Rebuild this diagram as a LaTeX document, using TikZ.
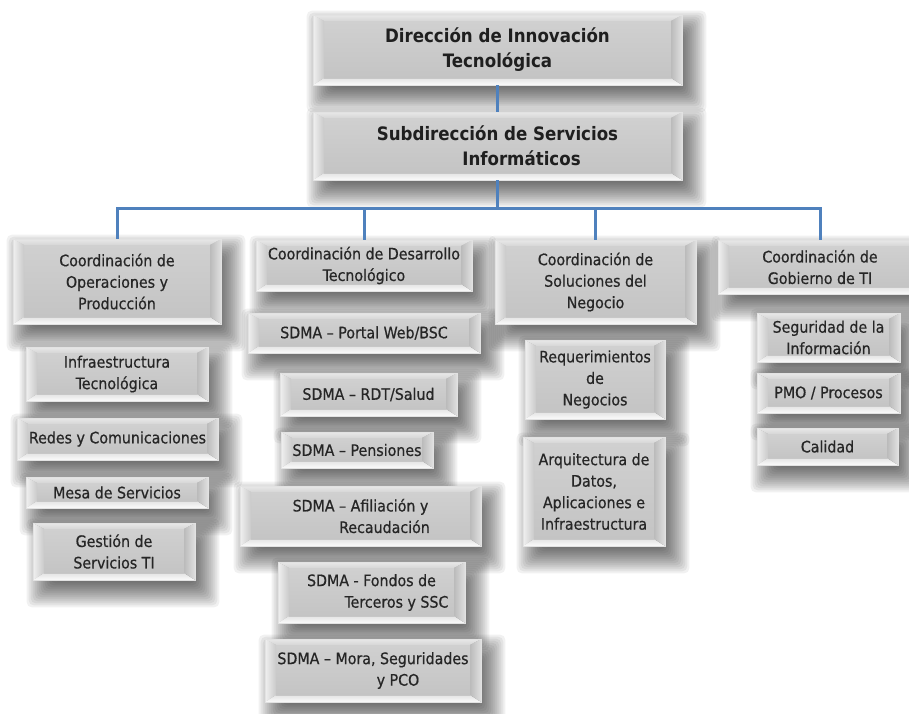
\documentclass[tikz,border=0pt]{standalone}
\usepackage{fontspec}
\usetikzlibrary{calc}
\newfontfamily\orgfont{DejaVu Sans Condensed}[FakeBold=0.6]
\newfontfamily\orgheadfont{DejaVu Sans Condensed Bold}
\definecolor{txt}{HTML}{262626}
\definecolor{rim}{HTML}{E2E2E2}
\definecolor{link}{HTML}{4F81BD}
\definecolor{mid1}{HTML}{D0D0D0}
\definecolor{mid2}{HTML}{C4C4C4}
\definecolor{topA}{HTML}{E8E8E8}
\definecolor{topB}{HTML}{D6D6D6}
\definecolor{botA}{HTML}{E4E4E4}
\definecolor{botB}{HTML}{FAFAFA}
\definecolor{lefA}{HTML}{F0F0F0}
\definecolor{lefB}{HTML}{CACACA}
\definecolor{rigA}{HTML}{BBBBBB}
\definecolor{rigB}{HTML}{E0E0E0}
\pgfdeclarelayer{shadowlayer}
\pgfsetlayers{shadowlayer,main}
\tikzset{
  bev/.style={
    inner sep=2pt, align=center, text=txt,
    font=\orgfont\fontsize{15.8}{21.5}\selectfont,
    draw=rim, line width=0.6pt,
    path picture={
      \path (path picture bounding box.north west) coordinate (pNW)
            (path picture bounding box.south east) coordinate (pSE);
      \coordinate (pNE) at (pSE |- pNW);
      \coordinate (pSW) at (pNW |- pSE);
      \coordinate (iNW) at ($(pNW)+(11,6)$);
      \coordinate (iNE) at ($(pNE)+(-11,6)$);
      \coordinate (iSE) at ($(pSE)+(-11,-7)$);
      \coordinate (iSW) at ($(pSW)+(11,-7)$);
      \shade[top color=mid1, bottom color=mid2] (iNW) rectangle (iSE);
      \shade[top color=topA, bottom color=topB] (pNW) -- (pNE) -- (iNE) -- (iNW) -- cycle;
      \shade[top color=botA, bottom color=botB] (pSW) -- (pSE) -- (iSE) -- (iSW) -- cycle;
      \shade[left color=lefA, right color=lefB] (pNW) -- (iNW) -- (iSW) -- (pSW) -- cycle;
      \shade[left color=rigA, right color=rigB] (pNE) -- (iNE) -- (iSE) -- (pSE) -- cycle;
      \draw[black!22, line width=0.5pt] (iSW) -- (iSE);
    }
  },
  head/.style={bev, font=\orgheadfont\fontsize{18.5}{25}\selectfont, text=black!88},
  wire/.style={draw=link, line width=3pt},
  softshade/.style={fill=black, fill opacity=0.055, draw=none}
}
\begin{document}
\begin{tikzpicture}[x=1pt, y=-1pt]
\useasboundingbox (0,0) rectangle (909,713);

% top management
\node[head, minimum width=369, minimum height=70] (dir) at (497.5,50)
  {Dirección de Innovación\\Tecnológica};
\node[head, minimum width=369, minimum height=68] (sub) at (497.5,146)
  {Subdirección de Servicios\\\hspace*{48pt}Informáticos};

% coordinations
\node[bev, minimum width=208, minimum height=85] (c1) at (117,281.5)
  {Coordinación de\\Operaciones y\\Producción};
\node[bev, minimum width=216, minimum height=51] (c2) at (364,265.5)
  {Coordinación de Desarrollo\\Tecnológico};
\node[bev, minimum width=201, minimum height=84] (c3) at (595.5,282)
  {Coordinación de\\Soluciones del\\Negocio};
\node[bev, minimum width=204, minimum height=54] (c4) at (820,267)
  {Coordinación de\\Gobierno de TI};

% operations and production
\node[bev, minimum width=182, minimum height=54] (o1) at (117,374)
  {Infraestructura\\Tecnológica};
\node[bev, minimum width=201, minimum height=42] (o2) at (117.5,439)
  {Redes y Comunicaciones};
\node[bev, minimum width=182, minimum height=31] (o3) at (117,492.5)
  {Mesa de Servicios};
\node[bev, minimum width=162, minimum height=57] (o4) at (114,551.5)
  {Gestión de\\Servicios TI};

% technological development
\node[bev, minimum width=232, minimum height=40] (d1) at (364,333)
  {SDMA – Portal Web/BSC};
\node[bev, minimum width=177, minimum height=43] (d2) at (368.5,394.5)
  {SDMA – RDT/Salud};
\node[bev, minimum width=152, minimum height=36] (d3) at (357,450)
  {SDMA – Pensiones};
\node[bev, minimum width=241, minimum height=60] (d4) at (360.5,516)
  {SDMA – Afiliación y\\\hspace*{48pt}Recaudación};
\node[bev, minimum width=187, minimum height=61] (d5) at (371.5,592.5)
  {SDMA - Fondos de\\\hspace*{50pt}Terceros y SSC};
\node[bev, minimum width=216, minimum height=63] (d6) at (373,670.5)
  {SDMA – Mora, Seguridades\\\hspace*{50pt}y PCO};

% business solutions
\node[bev, minimum width=140, minimum height=79] (s1) at (595,379.5)
  {Requerimientos\\de\\Negocios};
\node[bev, minimum width=142, minimum height=109] (s2) at (594,491.5)
  {Arquitectura de\\Datos,\\Aplicaciones e\\Infraestructura};

% IT governance
\node[bev, minimum width=143, minimum height=49] (g1) at (828.5,337.5)
  {Seguridad de la\\Información};
\node[bev, minimum width=143, minimum height=40] (g2) at (828.5,393)
  {PMO / Procesos};
\node[bev, minimum width=141, minimum height=37] (g3) at (827.5,446.5)
  {Calidad};

% white page and soft drop shadows: stacked translucent rectangles under every box
\begin{pgfonlayer}{shadowlayer}
  \fill[white] (0,0) rectangle (909,713);
  \foreach \n in {dir,sub,c1,c2,c3,c4,o1,o2,o3,o4,d1,d2,d3,d4,d5,d6,s1,s2,g1,g2,g3}
    \foreach \e in {-11,-9,...,15}
      \fill[softshade, rounded corners=5pt]
        ($(\n.north west)+(9-\e,11-\e)$) rectangle ($(\n.south east)+(9+\e,12+\e)$);
\end{pgfonlayer}

% reporting lines
\coordinate (bus) at (sub.south |- 0,208);
\draw[wire] (dir.south) -- (sub.north);
\draw[wire] (sub.south) -- (bus);
\draw[wire] (c1.north) |- (bus) -| (c4.north);
\draw[wire] (c2.north) -- (c2.north |- bus);
\draw[wire] (c3.north) -- (c3.north |- bus);
\end{tikzpicture}
\end{document}
